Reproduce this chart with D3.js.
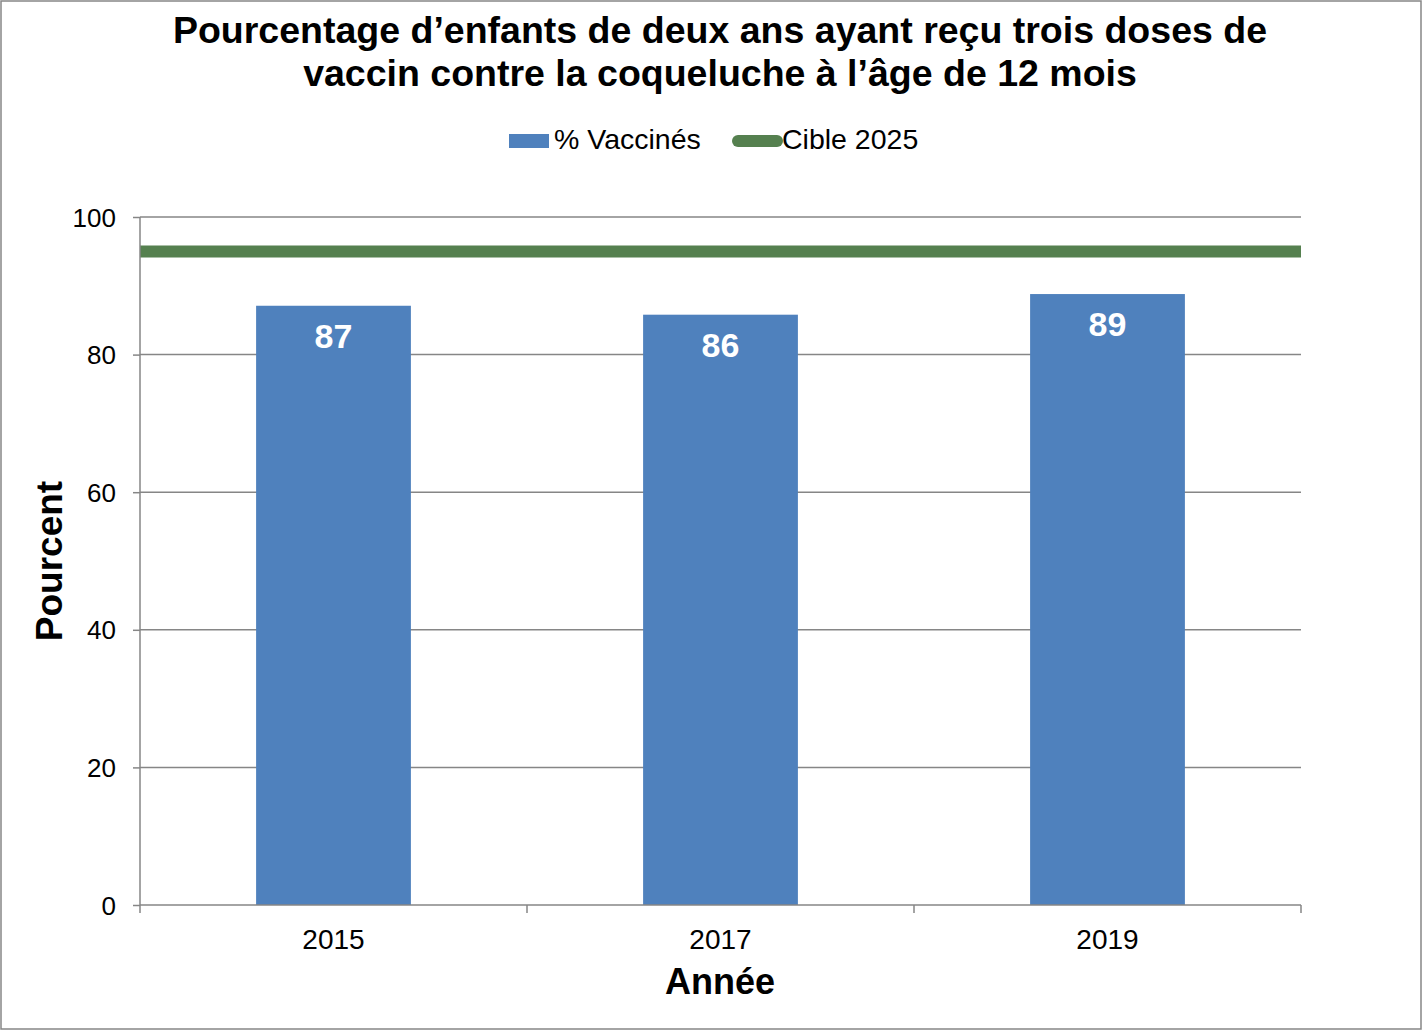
<!DOCTYPE html>
<html>
<head>
<meta charset="utf-8">
<script src="https://cdn.jsdelivr.net/npm/d3@7"></script>
<style>
  html, body { margin: 0; padding: 0; background: #fff; }
  svg { display: block; font-family: "Liberation Sans", Arial, sans-serif; }
</style>
</head>
<body>
<svg id="chart" width="1423" height="1031"></svg>
<script>
const years = ["2015", "2017", "2019"];
const vaccinated = [87.1, 85.8, 88.8];
const target = 95;
const yTicks = [0, 20, 40, 60, 80, 100];
const titleLines = [
  "Pourcentage d\u2019enfants de deux ans ayant re\u00e7u trois doses de",
  "vaccin contre la coqueluche \u00e0 l\u2019\u00e2ge de 12 mois"
];
const legendLabels = ["% Vaccin\u00e9s", "Cible 2025"];
const yTitle = "Pourcent";
const xTitle = "Ann\u00e9e";

const barColor = "#4F81BD";
const lineColor = "#55804F";
const gridColor = "#868686";

const svg = d3.select("#chart");
const W = 1423, H = 1031;
const m = { left: 140, right: 1301, top: 217, bottom: 905 };

svg.append("rect").attr("x", 1).attr("y", 1).attr("width", W - 3).attr("height", H - 3)
  .attr("fill", "#fff").attr("stroke", gridColor).attr("stroke-width", 1.5);

const x = d3.scaleBand().domain(years).range([m.left, m.right]).paddingInner(0.6).paddingOuter(0.3);
const y = d3.scaleLinear().domain([0, 100]).range([m.bottom, m.top]);

// gridlines
svg.append("g").selectAll("line").data(yTicks.filter(d => d > 0)).join("line")
  .attr("x1", m.left).attr("x2", m.right)
  .attr("y1", d => y(d)).attr("y2", d => y(d))
  .attr("stroke", gridColor).attr("stroke-width", 1.5);

// bars
svg.append("g").selectAll("rect").data(years).join("rect")
  .attr("x", d => x(d)).attr("width", x.bandwidth())
  .attr("y", (d, i) => y(vaccinated[i]))
  .attr("height", (d, i) => y(0) - y(vaccinated[i]))
  .attr("fill", barColor);

// target line
svg.append("line").attr("x1", m.left).attr("x2", m.right)
  .attr("y1", y(target)).attr("y2", y(target))
  .attr("stroke", lineColor).attr("stroke-width", 12);

// y axis
const yAxis = d3.axisLeft(y).tickValues(yTicks).tickSize(7).tickPadding(17).tickFormat(d3.format("d"));
const gy = svg.append("g").attr("transform", `translate(${m.left},0)`).call(yAxis);
gy.select(".domain").attr("stroke", gridColor).attr("stroke-width", 1.5).attr("d", `M0,${m.top}V${m.bottom}`);
gy.selectAll(".tick line").attr("stroke", gridColor).attr("stroke-width", 1.5);
gy.selectAll(".tick text").attr("font-size", 26).attr("fill", "#000")
  .attr("font-family", "\"Liberation Sans\", Arial, sans-serif").attr("dy", "0.35em");

// x axis
const xPos = d3.scaleLinear().domain([0, years.length]).range([m.left, m.right]);
const gx = svg.append("g").attr("transform", `translate(0,${m.bottom})`);
gx.append("line").attr("x1", m.left).attr("x2", m.right).attr("y1", 0).attr("y2", 0)
  .attr("stroke", gridColor).attr("stroke-width", 1.5);
gx.selectAll("line.tk").data(d3.range(years.length + 1)).join("line").attr("class", "tk")
  .attr("x1", d => xPos(d)).attr("x2", d => xPos(d)).attr("y1", 0).attr("y2", 8)
  .attr("stroke", gridColor).attr("stroke-width", 1.5);
const xAxis = d3.axisBottom(x).tickSize(0).tickPadding(0);
const gxl = svg.append("g").attr("transform", `translate(0,${m.bottom})`).call(xAxis);
gxl.select(".domain").remove();
gxl.selectAll(".tick text").attr("font-size", 28).attr("fill", "#000")
  .attr("font-family", "\"Liberation Sans\", Arial, sans-serif").attr("dy", null).attr("y", 44);

// data labels
svg.append("g").selectAll("text").data(years).join("text")
  .attr("x", d => x(d) + x.bandwidth() / 2)
  .attr("y", (d, i) => y(vaccinated[i]) + 42)
  .attr("text-anchor", "middle").attr("font-weight", "bold").attr("font-size", 34)
  .attr("fill", "#fff")
  .text((d, i) => d3.format(".0f")(vaccinated[i]));

// title
svg.append("g").selectAll("text").data(titleLines).join("text")
  .attr("x", 720).attr("y", (d, i) => 43 + i * 43)
  .attr("text-anchor", "middle").attr("font-weight", "bold").attr("font-size", 37.5)
  .attr("fill", "#000").text(d => d);

// legend
const lg = svg.append("g");
lg.append("rect").attr("x", 509).attr("y", 134).attr("width", 40).attr("height", 14).attr("fill", barColor);
lg.append("text").attr("x", 554).attr("y", 149).attr("font-size", 28.5).attr("fill", "#000").text(legendLabels[0]);
lg.append("line").attr("x1", 738).attr("x2", 777).attr("y1", 141).attr("y2", 141)
  .attr("stroke", lineColor).attr("stroke-width", 12).attr("stroke-linecap", "round");
lg.append("text").attr("x", 782).attr("y", 149).attr("font-size", 28.5).attr("fill", "#000").text(legendLabels[1]);

// axis titles
svg.append("text").attr("transform", `translate(62,${(m.top + m.bottom) / 2}) rotate(-90)`)
  .attr("text-anchor", "middle").attr("font-weight", "bold").attr("font-size", 37)
  .attr("fill", "#000").text(yTitle);
svg.append("text").attr("x", 720).attr("y", 994)
  .attr("text-anchor", "middle").attr("font-weight", "bold").attr("font-size", 36)
  .attr("fill", "#000").text(xTitle);
</script>
</body>
</html>
